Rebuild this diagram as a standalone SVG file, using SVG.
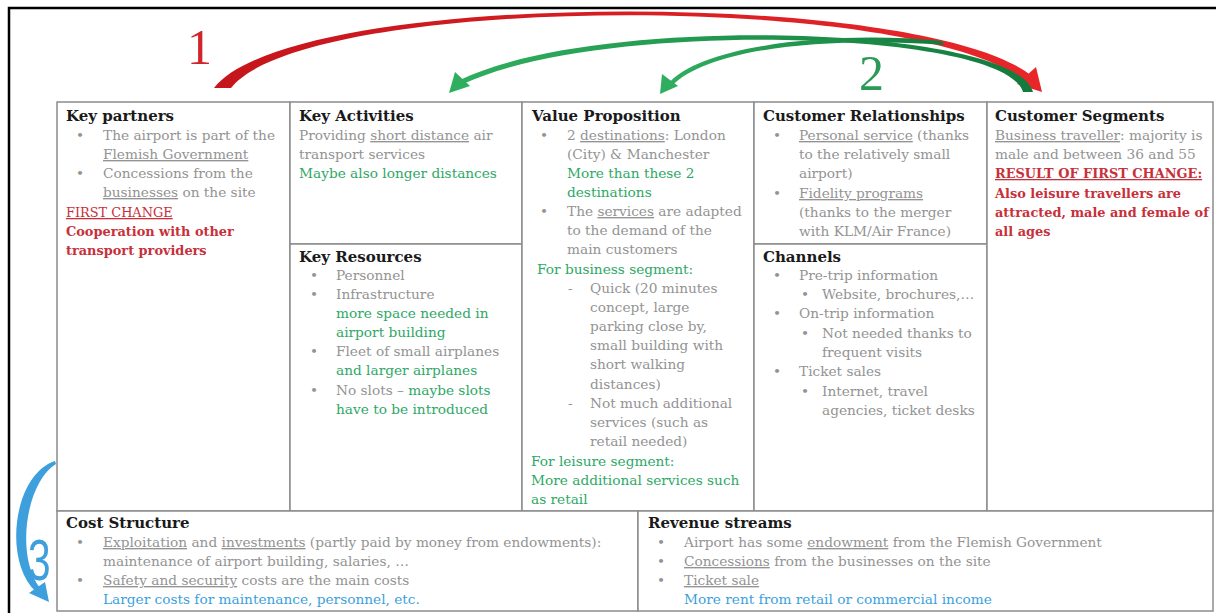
<svg xmlns="http://www.w3.org/2000/svg" width="1216" height="613" viewBox="0 0 1216 613">
<style>
text{font-family:"DejaVu Serif","Liberation Serif",serif;font-size:13.7px;fill:#939393}
.h{font-size:15px;font-weight:bold;fill:#1a1a1a}
.g{fill:#2ea866}
.r{fill:#c8303a;font-weight:bold;font-size:12.9px}
.b{fill:#3d9fdc}
.u{text-decoration:underline}
.box{fill:#fff;stroke:#8c8c8c;stroke-width:1.5}
.num{font-family:"Liberation Serif",serif;font-size:50px}
</style>
<defs>
<linearGradient id="redg" x1="0" x2="1" y1="0" y2="0"><stop offset="0" stop-color="#c4161c"/><stop offset="1" stop-color="#e8262a"/></linearGradient>
<linearGradient id="greeng" x1="1" x2="0" y1="0" y2="0"><stop offset="0" stop-color="#137a3c"/><stop offset="1" stop-color="#2fae5f"/></linearGradient>
</defs>
<rect x="9" y="8" width="1220" height="620" fill="#fff" stroke="#000" stroke-width="2.5"/>

<g id="key-partners">
<rect class="box" x="57" y="102" width="233" height="409"/>
<text class="h" x="66" y="121">Key partners</text>
<text x="76" y="140">•</text><text x="103" y="140">The airport is part of the</text>
<text x="103" y="159" class="u">Flemish Government</text>
<text x="76" y="178">•</text><text x="103" y="178">Concessions from the</text>
<text x="103" y="197"><tspan class="u">businesses</tspan> on the site</text>
<text x="66" y="217" class="r u" style="font-weight:normal">FIRST CHANGE</text>
<text x="66" y="236" class="r">Cooperation with other</text>
<text x="66" y="255" class="r">transport providers</text>
</g>

<g id="key-activities">
<rect class="box" x="290" y="102" width="232" height="142"/>
<text class="h" x="299" y="121">Key Activities</text>
<text x="299" y="140">Providing <tspan class="u">short distance</tspan> air</text>
<text x="299" y="159">transport services</text>
<text x="299" y="178" class="g">Maybe also longer distances</text>
</g>

<g id="key-resources">
<rect class="box" x="290" y="244" width="232" height="267"/>
<text class="h" x="299" y="262">Key Resources</text>
<text x="310" y="280">•</text><text x="336" y="280">Personnel</text>
<text x="310" y="299">•</text><text x="336" y="299">Infrastructure</text>
<text x="336" y="318" class="g">more space needed in</text>
<text x="336" y="337" class="g">airport building</text>
<text x="310" y="356">•</text><text x="336" y="356">Fleet of small airplanes</text>
<text x="336" y="375" class="g">and larger airplanes</text>
<text x="310" y="395">•</text><text x="336" y="395">No slots – <tspan class="g">maybe slots</tspan></text>
<text x="336" y="414" class="g">have to be introduced</text>
</g>

<g id="value-proposition">
<rect class="box" x="522" y="102" width="232" height="409"/>
<text class="h" x="532" y="121">Value Proposition</text>
<text x="540" y="140">•</text><text x="567" y="140">2 <tspan class="u">destinations</tspan>: London</text>
<text x="567" y="159">(City) &amp; Manchester</text>
<text x="567" y="178" class="g">More than these 2</text>
<text x="567" y="197" class="g">destinations</text>
<text x="540" y="216">•</text><text x="567" y="216">The <tspan class="u">services</tspan> are adapted</text>
<text x="567" y="235">to the demand of the</text>
<text x="567" y="254">main customers</text>
<text x="537" y="274" class="g">For business segment:</text>
<text x="568" y="293">-</text><text x="590" y="293">Quick (20 minutes</text>
<text x="590" y="312">concept, large</text>
<text x="590" y="331">parking close by,</text>
<text x="590" y="350">small building with</text>
<text x="590" y="369">short walking</text>
<text x="590" y="389">distances)</text>
<text x="568" y="408">-</text><text x="590" y="408">Not much additional</text>
<text x="590" y="427">services (such as</text>
<text x="590" y="446">retail needed)</text>
<text x="531" y="466" class="g">For leisure segment:</text>
<text x="531" y="485" class="g">More additional services such</text>
<text x="531" y="504" class="g">as retail</text>
</g>

<g id="customer-relationships">
<rect class="box" x="754" y="102" width="233" height="142"/>
<text class="h" x="763" y="121">Customer Relationships</text>
<text x="773" y="140">•</text><text x="799" y="140"><tspan class="u">Personal service</tspan> (thanks</text>
<text x="799" y="159">to the relatively small</text>
<text x="799" y="178">airport)</text>
<text x="773" y="198">•</text><text x="799" y="198" class="u">Fidelity programs</text>
<text x="799" y="217">(thanks to the merger</text>
<text x="799" y="236">with KLM/Air France)</text>
</g>

<g id="channels">
<rect class="box" x="754" y="244" width="233" height="267"/>
<text class="h" x="763" y="262">Channels</text>
<text x="773" y="280">•</text><text x="799" y="280">Pre-trip information</text>
<text x="801" y="299">•</text><text x="822" y="299">Website, brochures,…</text>
<text x="773" y="318">•</text><text x="799" y="318">On-trip information</text>
<text x="801" y="338">•</text><text x="822" y="338">Not needed thanks to</text>
<text x="822" y="357">frequent visits</text>
<text x="773" y="376">•</text><text x="799" y="376">Ticket sales</text>
<text x="801" y="396">•</text><text x="822" y="396">Internet, travel</text>
<text x="822" y="415">agencies, ticket desks</text>
</g>

<g id="customer-segments">
<rect class="box" x="987" y="102" width="226" height="409"/>
<text class="h" x="995" y="121">Customer Segments</text>
<text x="995" y="140"><tspan class="u">Business traveller</tspan>: majority is</text>
<text x="995" y="159">male and between 36 and 55</text>
<text x="995" y="178" class="r u">RESULT OF FIRST CHANGE:</text>
<text x="995" y="198" class="r">Also leisure travellers are</text>
<text x="995" y="217" class="r">attracted, male and female of</text>
<text x="995" y="236" class="r">all ages</text>
</g>

<g id="cost-structure">
<rect class="box" x="57" y="511" width="581" height="100"/>
<text class="h" x="66" y="528">Cost Structure</text>
<text x="76" y="547">•</text><text x="103" y="547"><tspan class="u">Exploitation</tspan> and <tspan class="u">investments</tspan> (partly paid by money from endowments):</text>
<text x="103" y="566">maintenance of airport building, salaries, …</text>
<text x="76" y="585">•</text><text x="103" y="585"><tspan class="u">Safety and security</tspan> costs are the main costs</text>
<text x="103" y="604" class="b">Larger costs for maintenance, personnel, etc.</text>
</g>

<g id="revenue-streams">
<rect class="box" x="638" y="511" width="575" height="100"/>
<text class="h" x="648" y="528">Revenue streams</text>
<text x="657" y="547">•</text><text x="684" y="547">Airport has some <tspan class="u">endowment</tspan> from the Flemish Government</text>
<text x="657" y="566">•</text><text x="684" y="566"><tspan class="u">Concessions</tspan> from the businesses on the site</text>
<text x="657" y="585">•</text><text x="684" y="585" class="u">Ticket sale</text>
<text x="684" y="604" class="b">More rent from retail or commercial income</text>
</g>

<g id="connectors">
<path d="M214,88 C292,-12 922,-12 1032,76 L1026,82 C918,-9 306,-7 231,88 Z" fill="url(#redg)"/>
<path d="M1042,92 L1017,84 L1036,67 Z" fill="#e8262a"/>
<path d="M1033,92 C1016,26 600,12 460,80 L463,84 C604,18 1006,30 1023,92 Z" fill="url(#greeng)"/>
<path d="M449,93 L455,72 L470,86 Z" fill="#2fae5f"/>
<path d="M942,41 C830,30 700,46 668,84 L672,86 C708,48 830,36 944,45 Z" fill="url(#greeng)"/>
<path d="M660,94 L662,74 L678,86 Z" fill="#2fae5f"/>
<path d="M55,461 C14,474 2,560 36,592 L40,588 C15,556 26,482 56,464 Z" fill="#3d9fdc"/>
<path d="M49,602 L29,593 L45,582 Z" fill="#3d9fdc"/>
<text class="num" x="187" y="64" style="fill:#d0252a">1</text>
<text class="num" x="859" y="90" style="fill:#2a9a56">2</text>
<text transform="translate(28,580) scale(0.7,1)" x="0" y="0" style="font-family:'Liberation Sans',sans-serif;font-size:58px;fill:#3d9fdc">3</text>
</g>
</svg>
